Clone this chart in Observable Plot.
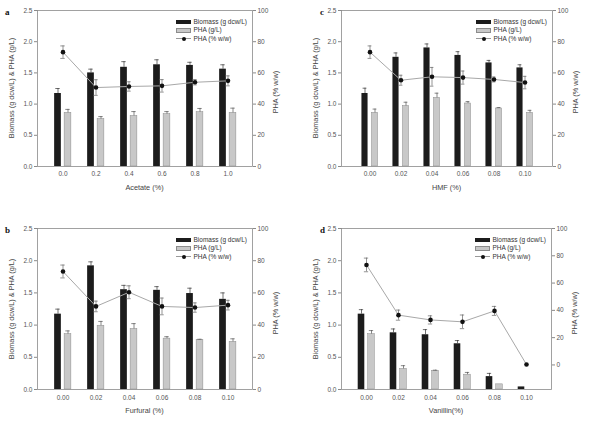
<!DOCTYPE html>
<html>
<head>
<meta charset="utf-8">
<script src="https://cdn.jsdelivr.net/npm/d3@7"></script>
<script src="https://cdn.jsdelivr.net/npm/@observablehq/plot@0.6"></script>
<style>
  body { margin: 0; background: #fff; }
  #root { position: relative; width: 590px; height: 425px; overflow: hidden; font-family: "Liberation Sans", Arial, sans-serif; }
  .panel { position: absolute; }
  .panel svg { position: absolute; left: 0; top: 0; }
  .tag { position: absolute; font-family: "Liberation Serif", serif; font-weight: bold; font-size: 9px; color: #111; line-height: 9px; }
  .title { position: absolute; font-size: 7.3px; color: #444; white-space: nowrap; line-height: 8px; }
  .legend { position: absolute; font-size: 6.5px; color: #333; line-height: 8.3px; }
  .legend .row { display: flex; align-items: center; height: 8.3px; }
  .legend .sw { width: 15px; height: 4.5px; margin-right: 2.5px; box-sizing: border-box; }
  .legend .ln { width: 15px; height: 4.5px; margin-right: 2.5px; position: relative; }
  .legend .ln::before { content: ""; position: absolute; left: 0; right: 0; top: 2px; border-top: 1px solid #999; }
  .legend .ln::after { content: ""; position: absolute; left: 5.5px; top: 0.3px; width: 4px; height: 4px; border-radius: 50%; background: #111; }
</style>
</head>
<body>
<div id="root"></div>
<script>
// ---------- data ----------
const catsAcetate = ["0.0", "0.2", "0.4", "0.6", "0.8", "1.0"];
const catsConc = ["0.00", "0.02", "0.04", "0.06", "0.08", "0.10"];

const leftTicks = [0, 0.5, 1.0, 1.5, 2.0, 2.5];
const rightTicks = [0, 20, 40, 60, 80, 100];

// a: Acetate
const biomassA = [1.17, 1.50, 1.59, 1.63, 1.62, 1.56];
const biomassErrA = [0.08, 0.06, 0.09, 0.08, 0.05, 0.07];
const phaA = [0.86, 0.76, 0.81, 0.84, 0.87, 0.86];
const phaErrA = [0.055, 0.04, 0.07, 0.04, 0.06, 0.075];
const pctA = [73.3, 50.6, 51.3, 51.7, 54.0, 54.9];
const pctErrA = [4, 5, 3, 4, 1.7, 3.2];

// b: Furfural
const biomassB = [1.17, 1.92, 1.55, 1.54, 1.49, 1.40];
const biomassErrB = [0.078, 0.062, 0.067, 0.057, 0.083, 0.10];
const phaB = [0.86, 0.99, 0.94, 0.79, 0.77, 0.74];
const phaErrB = [0.05, 0.067, 0.083, 0.03, 0.01, 0.047];
const pctB = [73.3, 51.6, 60.4, 51.6, 50.9, 52.4];
const pctErrB = [4, 3.3, 4, 5.2, 2.9, 3];

// c: HMF
const biomassC = [1.17, 1.75, 1.90, 1.78, 1.66, 1.58];
const biomassErrC = [0.085, 0.07, 0.064, 0.06, 0.04, 0.05];
const phaC = [0.86, 0.97, 1.10, 1.01, 0.93, 0.86];
const phaErrC = [0.06, 0.06, 0.075, 0.03, 0.015, 0.04];
const pctC = [73.3, 55.3, 57.5, 57.0, 55.8, 53.8];
const pctErrC = [4, 3.2, 6, 4.2, 1.6, 4];

// d: Vanillin
const biomassD = [1.17, 0.88, 0.85, 0.71, 0.20, 0.04];
const biomassErrD = [0.07, 0.06, 0.08, 0.05, 0.05, 0];
const phaD = [0.86, 0.32, 0.29, 0.23, 0.08, null];
const phaErrD = [0.055, 0.05, 0.01, 0.035, 0, 0];
const pctD = [73.3, 36.5, 33.0, 31.6, 39.6, 0.3];
const pctErrD = [5, 3.7, 3, 5, 3.3, 0];

const panels = [
  {tag: "a", left: 0, top: 0, w: 295, h: 200, ml: 37, mr: 43, mt: 10, mb: 34, pad: 0.25, tickPad: 5,
   cats: catsAcetate, xLabel: "Acetate (%)", pctMin: 0,
   biomass: biomassA, biomassErr: biomassErrA, pha: phaA, phaErr: phaErrA, pct: pctA, pctErr: pctErrA},
  {tag: "c", left: 295, top: 0, w: 295, h: 200, ml: 46, mr: 38, mt: 10, mb: 34, pad: 0.33, tickPad: 5,
   cats: catsConc, xLabel: "HMF (%)", pctMin: 0,
   biomass: biomassC, biomassErr: biomassErrC, pha: phaC, phaErr: phaErrC, pct: pctC, pctErr: pctErrC},
  {tag: "b", left: 0, top: 200, w: 295, h: 225, ml: 37, mr: 43, mt: 28, mb: 36, pad: 0.25, tickPad: 6,
   cats: catsConc, xLabel: "Furfural (%)", pctMin: 0,
   biomass: biomassB, biomassErr: biomassErrB, pha: phaB, phaErr: phaErrB, pct: pctB, pctErr: pctErrB},
  {tag: "d", left: 295, top: 200, w: 295, h: 225, ml: 46, mr: 39, mt: 28, mb: 36, pad: 0.26, tickPad: 6,
   cats: catsConc, xLabel: "Vanillin(%)", pctMin: -18,
   biomass: biomassD, biomassErr: biomassErrD, pha: phaD, phaErr: phaErrD, pct: pctD, pctErr: pctErrD}
];

const root = document.getElementById("root");

function draw(p) {
  const n = p.cats.length;
  const plotW = p.w - p.ml - p.mr;
  const step = plotW / (n + 2 * p.pad);
  const barW = 6.8, capW = 4.5, off = 5;
  const barInset = (step - barW) / 2;
  const capInset = (step - capW) / 2;
  const toY = v => (v - p.pctMin) * 2.5 / (100 - p.pctMin);
  const fromY = y => y * (100 - p.pctMin) / 2.5 + p.pctMin;

  const rows = p.cats.map((c, i) => ({
    cat: c, bio: p.biomass[i], bioE: p.biomassErr[i],
    pha: p.pha[i], phaE: p.phaErr[i], pct: p.pct[i], pctE: p.pctErr[i]
  }));
  const phaRows = rows.filter(d => d.pha != null);
  const bioErr = rows.filter(d => d.bioE > 0);
  const phaErr = phaRows.filter(d => d.phaE > 0);
  const pctErr = rows.filter(d => d.pctE > 0);

  const errStroke = "#333";
  const svg = Plot.plot({
    width: p.w, height: p.h,
    marginLeft: p.ml, marginRight: p.mr, marginTop: p.mt, marginBottom: p.mb,
    style: {fontFamily: "'Liberation Sans', Arial, sans-serif", fontSize: "6.5px", color: "#555", background: "transparent", overflow: "visible"},
    x: {type: "band", domain: p.cats, paddingInner: 0, paddingOuter: p.pad},
    y: {domain: [0, 2.5]},
    marks: [
      Plot.barY(rows, {x: "cat", y: "bio", fill: "#1c1c1c", insetLeft: barInset, insetRight: barInset, dx: -off}),
      Plot.barY(phaRows, {x: "cat", y: "pha", fill: "#c8c8c8", stroke: "#8c8c8c", strokeWidth: 0.5, insetLeft: barInset, insetRight: barInset, dx: off}),
      Plot.ruleX(bioErr, {x: "cat", y1: "bio", y2: d => d.bio + d.bioE, dx: -off, stroke: errStroke, strokeWidth: 0.7}),
      Plot.tickY(bioErr, {x: "cat", y: d => d.bio + d.bioE, dx: -off, insetLeft: capInset, insetRight: capInset, stroke: errStroke, strokeWidth: 0.7}),
      Plot.ruleX(phaErr, {x: "cat", y1: "pha", y2: d => d.pha + d.phaE, dx: off, stroke: "#555", strokeWidth: 0.7}),
      Plot.tickY(phaErr, {x: "cat", y: d => d.pha + d.phaE, dx: off, insetLeft: capInset, insetRight: capInset, stroke: "#555", strokeWidth: 0.7}),
      Plot.line(rows, {x: "cat", y: d => toY(d.pct), stroke: "#a8a8a8", strokeWidth: 1}),
      Plot.ruleX(pctErr, {x: "cat", y1: d => toY(d.pct - d.pctE), y2: d => toY(d.pct + d.pctE), stroke: "#666", strokeWidth: 0.7}),
      Plot.tickY(pctErr, {x: "cat", y: d => toY(d.pct + d.pctE), insetLeft: capInset, insetRight: capInset, stroke: "#666", strokeWidth: 0.7}),
      Plot.tickY(pctErr, {x: "cat", y: d => toY(d.pct - d.pctE), insetLeft: capInset, insetRight: capInset, stroke: "#666", strokeWidth: 0.7}),
      Plot.dot(rows, {x: "cat", y: d => toY(d.pct), r: 2.3, fill: "#111", stroke: "none"}),
      Plot.frame({stroke: "#8a8a8a", strokeWidth: 0.8}),
      Plot.axisY({anchor: "left", ticks: leftTicks, tickFormat: d => d.toFixed(1), tickSize: 3, tickPadding: 2, label: null, stroke: "#8a8a8a"}),
      Plot.axisY({anchor: "right", ticks: rightTicks.map(toY), tickFormat: d => String(Math.round(fromY(d))), tickSize: 3, tickPadding: 2, label: null, stroke: "#8a8a8a"}),
      Plot.axisX({anchor: "bottom", tickSize: 0, tickPadding: p.tickPad, label: null})
    ]
  });

  const div = document.createElement("div");
  div.className = "panel";
  div.style.left = p.left + "px";
  div.style.top = p.top + "px";
  div.style.width = p.w + "px";
  div.style.height = p.h + "px";
  div.appendChild(svg);

  const frameL = p.ml, frameR = p.w - p.mr, frameT = p.mt, frameB = p.h - p.mb;
  const cx = (frameL + frameR) / 2, cy = (frameT + frameB) / 2;

  const tag = document.createElement("div");
  tag.className = "tag";
  tag.textContent = p.tag;
  tag.style.left = (p.tag === "a" || p.tag === "b" ? 5 : 25) + "px";
  tag.style.top = (frameT - 2) + "px";
  div.appendChild(tag);

  const xt = document.createElement("div");
  xt.className = "title";
  xt.textContent = p.xLabel;
  xt.style.left = cx + "px";
  xt.style.top = (frameB + 22) + "px";
  xt.style.transform = "translate(-50%, -50%)";
  div.appendChild(xt);

  const yl = document.createElement("div");
  yl.className = "title";
  yl.textContent = "Biomass (g dcw/L) & PHA (g/L)";
  yl.style.left = (frameL - 25) + "px";
  yl.style.top = cy + "px";
  yl.style.transform = "translate(-50%, -50%) rotate(-90deg)";
  div.appendChild(yl);

  const yr = document.createElement("div");
  yr.className = "title";
  yr.textContent = "PHA (% w/w)";
  yr.style.left = (frameR + 24) + "px";
  yr.style.top = (cy + 4) + "px";
  yr.style.transform = "translate(-50%, -50%) rotate(-90deg)";
  div.appendChild(yr);

  const lg = document.createElement("div");
  lg.className = "legend";
  lg.style.left = (frameR - 76) + "px";
  lg.style.top = (frameT + 8) + "px";
  lg.innerHTML =
    '<div class="row"><div class="sw" style="background:#1c1c1c"></div>Biomass (g dcw/L)</div>' +
    '<div class="row"><div class="sw" style="background:#c8c8c8;border:0.5px solid #8c8c8c"></div>PHA (g/L)</div>' +
    '<div class="row"><div class="ln"></div>PHA (% w/w)</div>';
  div.appendChild(lg);

  root.appendChild(div);
}

panels.forEach(draw);
</script>
</body>
</html>
